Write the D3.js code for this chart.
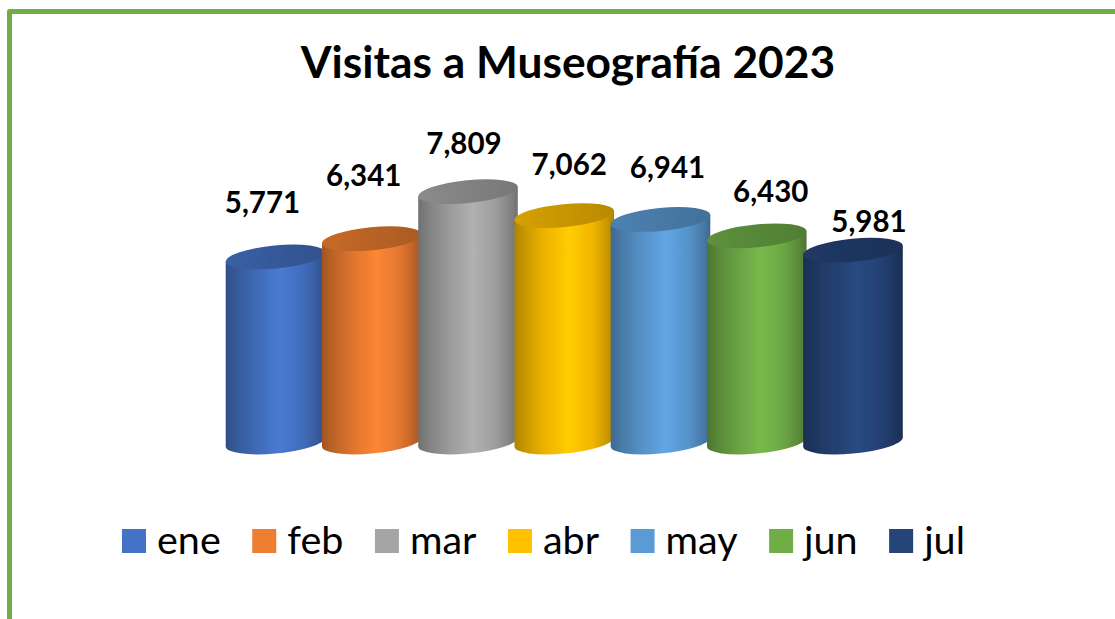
<!DOCTYPE html>
<html><head><meta charset="utf-8">
<script src="https://cdn.jsdelivr.net/npm/d3@7/dist/d3.min.js"></script>
<style>html,body{margin:0;padding:0;background:#fff;overflow:hidden}svg{display:block}text{font-family:Lato,"Noto Sans",sans-serif;fill:#000}</style>
</head><body><svg id="c" width="1115" height="619"></svg>
<script>
const months = ["ene","feb","mar","abr","may","jun","jul"];
const visits = [5771,6341,7809,7062,6941,6430,5981];
const chartTitle = "Visitas a Museografía 2023";
const palette = ["#4472C4","#ED7D31","#A5A5A5","#FFC000","#5B9BD5","#70AD47","#264478"];
const labelShiftX = [-13,-8,-4,5,7,14,16];
const labelShiftY = [-32,-40,-25,-28,-29,-21,-6];

const svg = d3.select("#c");
const defs = svg.append("defs");
const x = d3.scalePoint().domain(months).range([275.5,853]);
const y = d3.scaleLinear().domain([0,8000]).range([442,185.5]);
const rx = 50, ry = 11.5, tilt = -5.5;
const a = tilt*Math.PI/180;
const ex = Math.hypot(rx*Math.cos(a), ry*Math.sin(a));
const ey = (rx*rx-ry*ry)*Math.sin(a)*Math.cos(a)/ex;
const halfH = Math.hypot(rx*Math.sin(a), ry*Math.cos(a));

svg.append("rect").attr("x",9.5).attr("y",11.5).attr("width",1130).attr("height",640)
  .attr("fill","#fff").attr("stroke","#70AD47").attr("stroke-width",5).attr("stroke-linejoin","round");

svg.append("text").attr("x",568).attr("y",78).attr("text-anchor","middle")
  .attr("font-size",44.3).attr("font-weight",700).text(chartTitle);

defs.append("filter").attr("id","soft").attr("x","-5%").attr("y","-5%").attr("width","110%").attr("height","110%")
  .append("feGaussianBlur").attr("stdDeviation",0.6);

const shade = (c,k)=>{const r=d3.rgb(c);return d3.rgb(Math.min(255,r.r*k),Math.min(255,r.g*k),Math.min(255,r.b*k)).formatHex();};
palette.forEach((c,i)=>{
  const g=defs.append("linearGradient").attr("id","g"+i).attr("x1",0).attr("x2",1).attr("y1",0).attr("y2",0);
  [[0,.68],[.1,.78],[.3,.93],[.55,1.07],[.78,.95],[.92,.8],[1,.68]].forEach(s=>
    g.append("stop").attr("offset",s[0]).attr("stop-color",shade(c,s[1])));
  const t=defs.append("linearGradient").attr("id","t"+i).attr("x1",0).attr("x2",1).attr("y1",0).attr("y2",0);
  [[0,.84],[.5,.78],[1,.72]].forEach(s=>
    t.append("stop").attr("offset",s[0]).attr("stop-color",shade(c,s[1])));
});

const bars = svg.append("g").selectAll("g").data(months).join("g").attr("filter","url(#soft)");
const idx = m => months.indexOf(m);
const vOf = m => visits[idx(m)];
bars.append("path")
  .attr("fill",m=>`url(#g${idx(m)})`)
  .attr("d",m=>{
    const cx=x(m), top=y(vOf(m)), base=y(0);
    return `M${cx-ex},${top-ey}L${cx+ex},${top+ey}L${cx+ex},${base+ey}`+
      `A${rx},${ry} ${tilt} 0 1 ${cx-ex},${base-ey}Z`;
  });
bars.append("ellipse")
  .attr("rx",rx).attr("ry",ry)
  .attr("transform",m=>`translate(${x(m)},${y(vOf(m))}) rotate(${tilt})`)
  .attr("fill",m=>`url(#t${idx(m)})`);

svg.append("g").selectAll("text").data(months).join("text")
  .attr("x",m=>x(m)+labelShiftX[idx(m)])
  .attr("y",m=>y(vOf(m))-halfH+labelShiftY[idx(m)])
  .attr("text-anchor","middle").attr("font-size",29.5).attr("font-weight",700)
  .text(m=>d3.format(",")(vOf(m)));

const legend = svg.append("g");
let lx = 122;
months.forEach((m,i)=>{
  legend.append("rect").attr("x",lx).attr("y",529).attr("width",24).attr("height",24).attr("fill",palette[i]);
  const t = legend.append("text").attr("x",lx+35).attr("y",554).attr("font-size",39.5).text(m);
  lx += 35 + t.node().getComputedTextLength() + 31.5;
});
</script></body></html>
